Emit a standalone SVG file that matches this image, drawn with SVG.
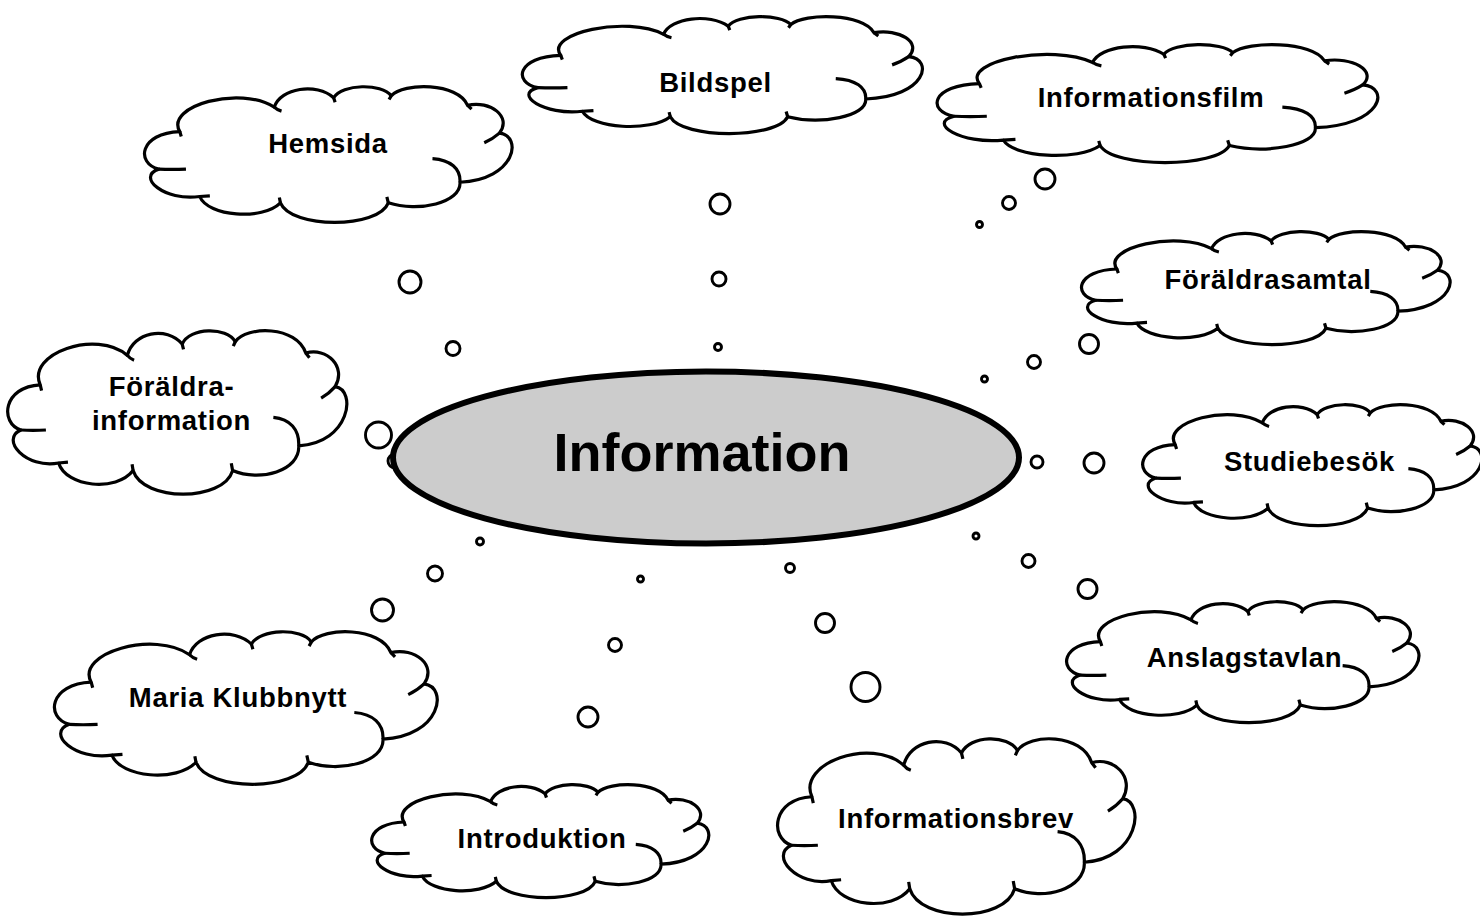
<svg xmlns="http://www.w3.org/2000/svg" xmlns:xlink="http://www.w3.org/1999/xlink" width="1480" height="919" viewBox="0 0 1480 919">
<style>
.co{fill:#fff;stroke:#000;stroke-width:3.2;vector-effect:non-scaling-stroke;stroke-linejoin:round}
.cc{fill:none;stroke:#000;stroke-width:3.2;vector-effect:non-scaling-stroke;stroke-linecap:butt}
.bub{fill:#fff;stroke:#000;stroke-width:2.9}
.lbl{font-family:"Liberation Sans",Arial,sans-serif;font-weight:bold;font-size:27.5px;letter-spacing:0.7px;text-anchor:middle;fill:#000}
.main{font-family:"Liberation Sans",Arial,sans-serif;font-weight:bold;font-size:54px;text-anchor:middle;fill:#000}
</style>
<defs>
<g id="cloud">
<path class="co" d="M9.2 32.9 C5 14 26 -1 35.3 15.1 C37 1 47 -3 51.7 8.2 C54 -2 65 -2.5 67.6 6.8 C71 -3 86 -3 88.7 13.7 C95 10 101 22 97.5 34 C104 36 102 68 86.6 69.9 C87 85 75 92 66.8 84.9 C64 104 40 104 37 84.9 C32 98 17 95 14.7 80.3 C5 84 -3 66 3.4 60.3 C-3 56 -2 34 9.2 32.9 Z"/>
<path class="cc" d="M9.2 32.9 L9.6 36.5 M35.3 15.1 Q36 17 37.3 18 M51.7 8.2 L52.1 11.5 M67.6 6.8 L67 9.5 M88.7 13.7 L89.8 16.5 M97.5 34 Q95.8 38 93.3 41 M79 52.6 C84 53.5 86.8 60 86.6 69.9 M66.8 84.9 L66.4 80.5 M37 84.9 L36.7 81 M14.7 80.3 L17.5 79.8 M3.4 60.3 Q7 60.8 10.9 60.3"/>
</g>
</defs>
<rect width="1480" height="919" fill="#fff"/>

<g id="connectors">
<circle class="bub" cx="410" cy="282" r="11"/>
<circle class="bub" cx="453" cy="348.5" r="7"/>
<circle class="bub" cx="720" cy="204" r="10"/>
<circle class="bub" cx="719" cy="279" r="7"/>
<circle class="bub" cx="718" cy="347" r="3.5"/>
<circle class="bub" cx="1045" cy="179" r="10"/>
<circle class="bub" cx="1009" cy="203" r="6.5"/>
<circle class="bub" cx="979.5" cy="224.5" r="3"/>
<circle class="bub" cx="1089" cy="344" r="9.5"/>
<circle class="bub" cx="1034" cy="362" r="6.5"/>
<circle class="bub" cx="984.5" cy="379" r="3"/>
<circle class="bub" cx="1094" cy="463" r="10"/>
<circle class="bub" cx="1037" cy="462" r="6"/>
<circle class="bub" cx="1087.5" cy="589" r="9.5"/>
<circle class="bub" cx="1028.5" cy="561" r="6.5"/>
<circle class="bub" cx="976" cy="536" r="3"/>
<circle class="bub" cx="865.5" cy="687" r="14.5"/>
<circle class="bub" cx="825" cy="623" r="9.5"/>
<circle class="bub" cx="790" cy="568" r="4.5"/>
<circle class="bub" cx="588" cy="717" r="10"/>
<circle class="bub" cx="615" cy="645" r="6.5"/>
<circle class="bub" cx="640.5" cy="579" r="3"/>
<circle class="bub" cx="382.5" cy="610" r="11"/>
<circle class="bub" cx="435" cy="573.5" r="7.5"/>
<circle class="bub" cx="480" cy="541.5" r="3.5"/>
<circle class="bub" cx="378.5" cy="435" r="13"/>
<circle class="bub" cx="395" cy="461" r="7"/>
</g>

<g id="node-hemsida">
<use xlink:href="#cloud" href="#cloud" transform="translate(146.5,86.5) scale(3.62,1.37)"/>
<text class="lbl" x="328" y="153">Hemsida</text>
</g>
<g id="node-bildspel">
<use xlink:href="#cloud" href="#cloud" transform="translate(524.5,16.5) scale(3.94,1.18)"/>
<text class="lbl" x="715.5" y="92">Bildspel</text>
</g>
<g id="node-informationsfilm">
<use xlink:href="#cloud" href="#cloud" transform="translate(939.5,44.5) scale(4.34,1.19)"/>
<text class="lbl" x="1151" y="107">Informationsfilm</text>
</g>
<g id="node-foraldrasamtal">
<use xlink:href="#cloud" href="#cloud" transform="translate(1083.5,231.5) scale(3.63,1.14)"/>
<text class="lbl" x="1268" y="289">Föräldrasamtal</text>
</g>
<g id="node-foraldrainformation">
<use xlink:href="#cloud" href="#cloud" transform="translate(9.5,330.5) scale(3.34,1.65)"/>
<text class="lbl" x="171.5" y="396">Föräldra-</text>
<text class="lbl" x="171.5" y="430">information</text>
</g>
<g id="node-studiebesok">
<use xlink:href="#cloud" href="#cloud" transform="translate(1144.5,404.5) scale(3.34,1.22)"/>
<text class="lbl" x="1309.5" y="471">Studiebesök</text>
</g>
<g id="node-mariaklubbnytt">
<use xlink:href="#cloud" href="#cloud" transform="translate(56.5,631.5) scale(3.77,1.54)"/>
<text class="lbl" x="238" y="707">Maria Klubbnytt</text>
</g>
<g id="node-anslagstavlan">
<use xlink:href="#cloud" href="#cloud" transform="translate(1068.5,601.5) scale(3.47,1.22)"/>
<text class="lbl" x="1244.5" y="667">Anslagstavlan</text>
</g>
<g id="node-introduktion">
<use xlink:href="#cloud" href="#cloud" transform="translate(373.5,784.5) scale(3.32,1.14)"/>
<text class="lbl" x="542" y="848">Introduktion</text>
</g>
<g id="node-informationsbrev">
<use xlink:href="#cloud" href="#cloud" transform="translate(779.5,738.5) scale(3.52,1.77)"/>
<text class="lbl" x="956" y="828">Informationsbrev</text>
</g>

<g id="node-information">
<ellipse cx="706" cy="457.5" rx="313" ry="86" fill="#cccccc" stroke="#000" stroke-width="6"/>
<text class="main" x="702" y="470.5">Information</text>
</g>
</svg>
